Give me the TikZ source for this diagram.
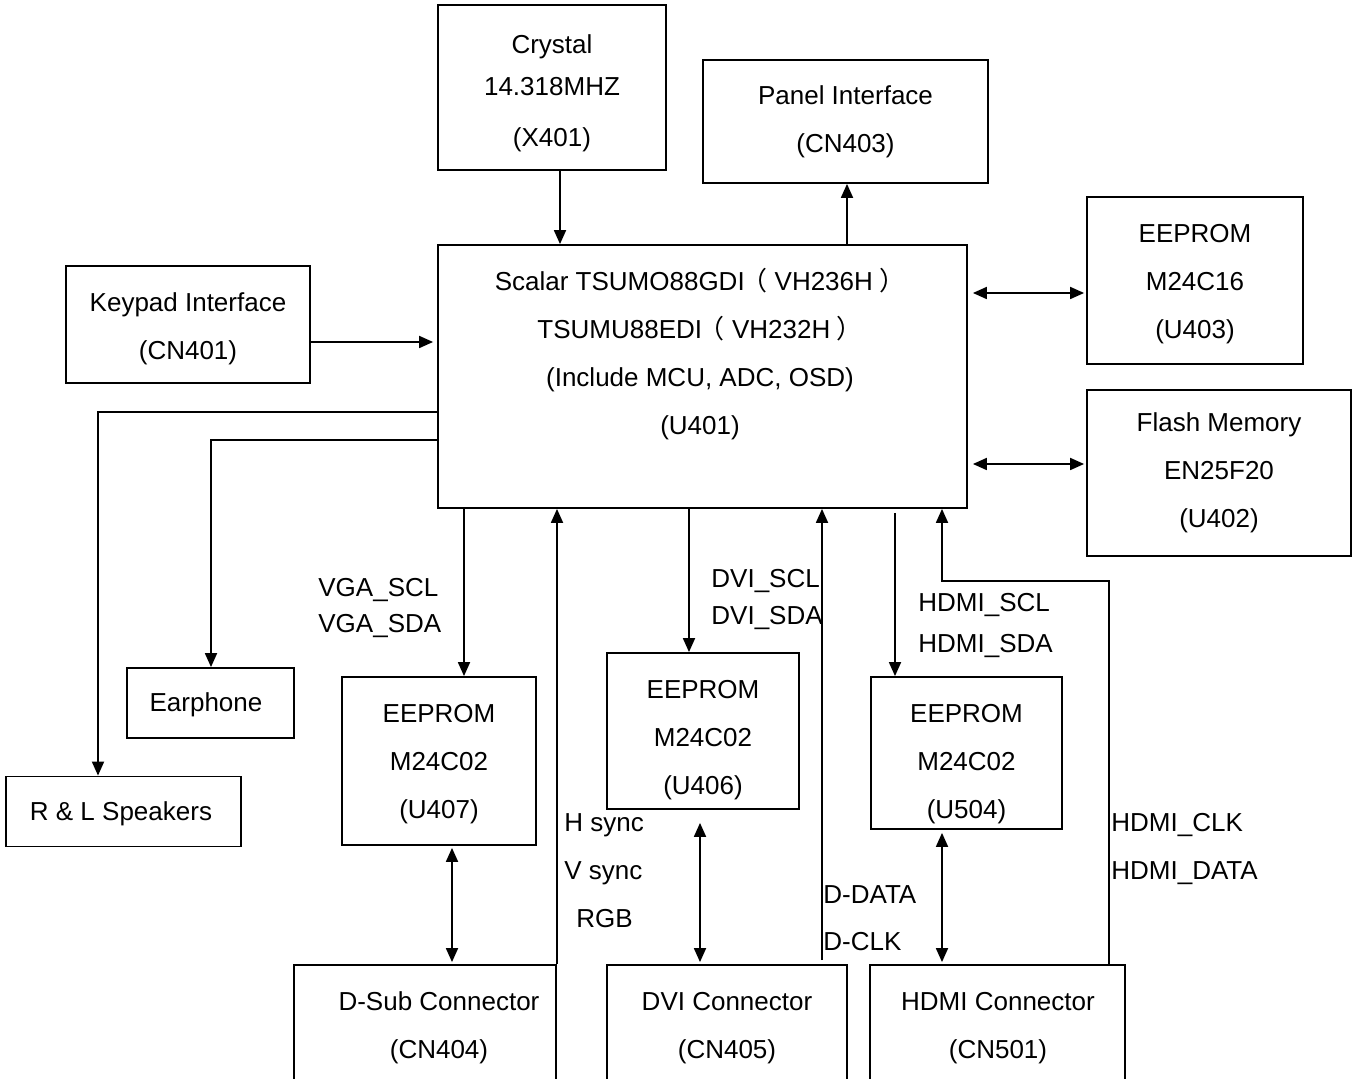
\documentclass[tikz,border=0pt]{standalone}
\usepackage{fontspec}
\setmainfont{Liberation Sans}
\newfontfamily\cjk{Noto Sans CJK SC}
\usetikzlibrary{arrows.meta}
\newcommand{\fwlp}{\kern-0.125em{\cjk（}\kern0.275em}
\newcommand{\fwrp}{\kern0.24em{\cjk）}}
\begin{document}
\begin{tikzpicture}[x=0.5pt,y=-0.5pt,
  box/.style={draw, line width=0.9pt, align=center, inner sep=0pt, font=\fontsize{13pt}{24pt}\selectfont},
  txt/.style={align=center, inner sep=0pt, font=\fontsize{13pt}{24pt}\selectfont},
  lbl/.style={anchor=base west, inner sep=0pt, font=\fontsize{13pt}{15pt}\selectfont},
  arr/.style={line width=0.9pt, -{Triangle[length=7pt,width=6pt]}},
  darr/.style={line width=0.9pt, {Triangle[length=7pt,width=6pt]}-{Triangle[length=7pt,width=6pt]}}]
\clip (0,0) rectangle (1355,1079);
\fill[white] (0,0) rectangle (1355,1079);

% boxes
\node[box, minimum width=114pt, minimum height=82.5pt] (crystal) at (552,87.5) {};
\node[txt] (crystaltext) at (552,93) {Crystal\\[-3pt]14.318MHZ\\[1.5pt](X401)};
\node[box, minimum width=142.5pt, minimum height=61.5pt] (panel) at (845.5,121.5) {Panel Interface\\(CN403)};
\node[box, minimum width=264.5pt, minimum height=131.5pt] (scalar) at (702.5,376.5) {};
\node[txt] (scalartext) at (700,354) {Scalar TSUMO88GDI\fwlp VH236H\fwrp\\TSUMU88EDI\fwlp VH232H\fwrp\\(Include MCU, ADC, OSD)\\(U401)};
\node[box, minimum width=108pt, minimum height=83.5pt] (e16) at (1195,280.5) {};
\node[txt] (e16text) at (1195,284) {EEPROM\\M24C16\\(U403)};
\node[box, minimum width=132pt, minimum height=83pt] (flash) at (1219,473) {Flash Memory\\EN25F20\\(U402)};
\node[box, minimum width=122pt, minimum height=58.5pt] (keypad) at (188,324.5) {};
\node[txt] (keypadtext) at (188,328.5) {Keypad Interface\\(CN401)};
\node[box, minimum width=83.5pt, minimum height=35pt] (earphone) at (210.5,703) {};
\node[txt] (earphonetext) at (206,705) {Earphone};
\node[box, minimum width=117.5pt, minimum height=35pt] (speakers) at (123.5,811.5) {};
\node[txt] (speakerstext) at (121,814) {R \& L Speakers};
\node[box, minimum width=97pt, minimum height=84pt] (u407) at (439,761) {};
\node[txt] (u407text) at (439,764) {EEPROM\\M24C02\\(U407)};
\node[box, minimum width=96pt, minimum height=78pt] (u406) at (703,731) {};
\node[txt] (u406text) at (703,740) {EEPROM\\M24C02\\(U406)};
\node[box, minimum width=95.5pt, minimum height=76pt] (u504) at (966.5,753) {};
\node[txt] (u504text) at (966.5,764) {EEPROM\\M24C02\\(U504)};
\node[box, minimum width=131pt, minimum height=67.5pt] (dsub) at (425,1032.5) {};
\node[txt] (dsubtext) at (439,1028) {D-Sub Connector\\(CN404)};
\node[box, minimum width=120pt, minimum height=67.5pt] (dvi) at (727,1032.5) {};
\node[txt] (dvitext) at (727,1028) {DVI Connector\\(CN405)};
\node[box, minimum width=127.5pt, minimum height=67.5pt] (hdmi) at (997.5,1032.5) {};
\node[txt] (hdmitext) at (998,1028) {HDMI Connector\\(CN501)};

% labels
\node[lbl] (l1) at (318,597) {VGA\_SCL};
\node[lbl] (l2) at (318,633) {VGA\_SDA};
\node[lbl] (l3) at (711,588) {DVI\_SCL};
\node[lbl] (l4) at (711,625) {DVI\_SDA};
\node[lbl] (l5) at (918,612) {HDMI\_SCL};
\node[lbl] (l6) at (918,653) {HDMI\_SDA};
\node[lbl] (l7) at (564,831) {H sync};
\node[lbl] (l8) at (564,879) {V sync};
\node[lbl] (l9) at (576,927) {RGB};
\node[lbl] (l10) at (823,903) {D-DATA};
\node[lbl] (l11) at (823,950) {D-CLK};
\node[lbl] (l12) at (1111,831) {HDMI\_CLK};
\node[lbl] (l13) at (1111,879) {HDMI\_DATA};

% coordinates for connector positions
\coordinate (xcr) at (560,0);
\coordinate (xpn) at (847,0);
\coordinate (yk) at (0,342);
\coordinate (y16) at (0,293);
\coordinate (yfl) at (0,464);
\coordinate (ysp) at (0,412);
\coordinate (xsp) at (98,0);
\coordinate (yep) at (0,440);
\coordinate (xep) at (211,0);
\coordinate (xa) at (464,0);
\coordinate (xb) at (557,0);
\coordinate (xc) at (452,0);
\coordinate (xd) at (689,0);
\coordinate (xe) at (700,0);
\coordinate (xf) at (822,0);
\coordinate (xg) at (895,0);
\coordinate (xh) at (942,0);
\coordinate (xi) at (1109,0);
\coordinate (yj) at (0,581);

% connectors
\draw[arr] (crystal.south -| xcr) -- (scalar.north -| xcr);
\draw[arr] (scalar.north -| xpn) -- (panel.south -| xpn);
\draw[arr, shorten >=2pt] (keypad.east |- yk) -- (scalar.west |- yk);
\draw[darr, shorten <=2.5pt, shorten >=1pt] (scalar.east |- y16) -- (e16.west |- y16);
\draw[darr, shorten <=2.5pt, shorten >=1pt] (scalar.east |- yfl) -- (flash.west |- yfl);
\draw[arr] (scalar.west |- ysp) -| (speakers.north -| xsp);
\draw[arr] (scalar.west |- yep) -| (earphone.north -| xep);
\draw[arr] (scalar.south -| xa) -- (u407.north -| xa);
\draw[arr] (dsub.north -| xb) -- (scalar.south -| xb);
\draw[darr, shorten <=1pt, shorten >=1pt] (u407.south -| xc) -- (dsub.north -| xc);
\draw[arr] (scalar.south -| xd) -- (u406.north -| xd);
\draw[darr, shorten <=6.5pt, shorten >=1pt] (u406.south -| xe) -- (dvi.north -| xe);
\draw[arr, shorten <=2pt] (dvi.north -| xf) -- (scalar.south -| xf);
\draw[arr, shorten <=2pt] (scalar.south -| xg) -- (u504.north -| xg);
\draw[darr, shorten <=1.5pt, shorten >=1pt] (u504.south -| xh) -- (hdmi.north -| xh);
\draw[arr] (hdmi.north -| xi) |- (yj -| xh) -- (scalar.south -| xh);
\end{tikzpicture}
\end{document}
